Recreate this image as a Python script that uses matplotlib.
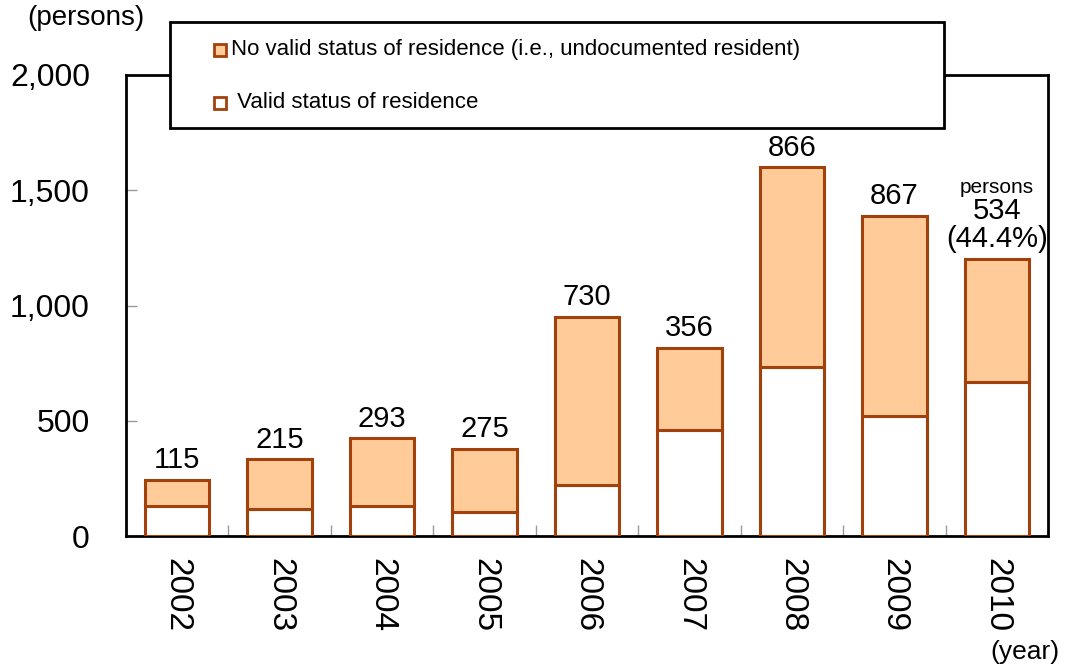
import matplotlib.pyplot as plt
from matplotlib.patches import Rectangle

plt.rcParams['font.family'] = ['Liberation Sans', 'DejaVu Sans']

years = ["2002", "2003", "2004", "2005", "2006", "2007", "2008", "2009", "2010"]
valid = [130, 117, 130, 104, 221, 460, 733, 521, 668]
undocumented = [115, 215, 293, 275, 730, 356, 866, 867, 534]

edge = '#A3410C'
fill = '#FFCC99'

fig = plt.figure(figsize=(10.65, 6.71), dpi=100)
ax = fig.add_axes([126 / 1065, 1 - 536 / 671, 922 / 1065, 461 / 671])

x = range(len(years))
ax.bar(x, valid, width=0.63, color='white', edgecolor=edge, linewidth=2.2, zorder=3)
ax.bar(x, undocumented, width=0.63, bottom=valid, color=fill, edgecolor=edge,
       linewidth=2.2, zorder=3)

totals = [v + u for v, u in zip(valid, undocumented)]
for i, (t, u) in enumerate(zip(totals, undocumented)):
    if i == len(years) - 1:
        share = u / t * 100
        ax.text(i, t + 25, f"{u}\n({share:.1f}%)", ha='center', va='bottom',
                fontsize=21, linespacing=1.0)
        ax.text(i, t + 270, "persons", ha='center', va='bottom', fontsize=15)
    else:
        ax.text(i, t + 25, str(u), ha='center', va='bottom', fontsize=21)

ax.set_xlim(-0.5, len(years) - 0.5)
ax.set_ylim(0, 2000)
ax.set_yticks([0, 500, 1000, 1500, 2000])
ax.set_yticklabels(["0", "500", "1,000", "1,500", "2,000"], fontsize=23)
ax.tick_params(axis='y', direction='in', length=8, width=1, color='#999999', pad=26)

ax.set_xticks(list(x))
ax.set_xticklabels(years, rotation=270, fontsize=24, va='top', ha='center')
ax.tick_params(axis='x', which='major', length=0, pad=16)
ax.set_xticks([i + 0.5 for i in range(len(years) - 1)], minor=True)
ax.tick_params(axis='x', which='minor', direction='in', length=8, width=1, color='#999999')

for s in ax.spines.values():
    s.set_linewidth(2)

fig.text(27 / 1065, 1 - 18 / 671, "(persons)", fontsize=20, va='center', ha='left')
fig.text(1060 / 1065, 1 - 652 / 671, "(year)", fontsize=19, va='center', ha='right')

# legend box
fig.patches.append(Rectangle((170 / 1065, 1 - 128 / 671), 774 / 1065, 106 / 671,
                             transform=fig.transFigure, facecolor='white',
                             edgecolor='black', linewidth=2, zorder=5))
legend_items = [(fill, "No valid status of residence (i.e., undocumented resident)", 50),
                ('white', " Valid status of residence", 103)]
for color, label, ypix in legend_items:
    fig.patches.append(Rectangle((214 / 1065, 1 - (ypix + 6) / 671), 12 / 1065, 12 / 671,
                                 transform=fig.transFigure, facecolor=color,
                                 edgecolor=edge, linewidth=2, zorder=6))
    fig.text(231 / 1065, 1 - ypix / 671, label, fontsize=16, va='center', ha='left', zorder=6)

fig.savefig('out.png', dpi=100)
